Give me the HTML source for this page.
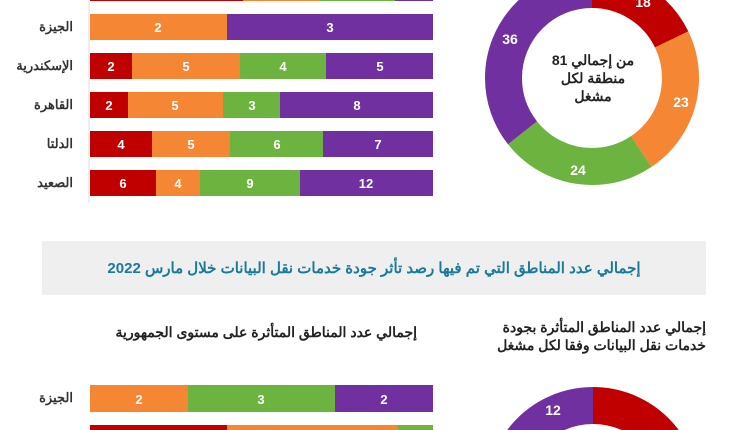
<!DOCTYPE html>
<html><head><meta charset="utf-8"><style>
html,body{margin:0;width:750px;height:430px;overflow:hidden;background:#fff;font-family:"Liberation Sans","Noto Sans CJK SC",sans-serif}
svg{display:block}
</style></head><body>
<svg width="750" height="430" viewBox="0 0 750 430" xmlns="http://www.w3.org/2000/svg" style="font-family:'Liberation Sans','Noto Sans CJK SC',sans-serif">
<g font-weight="bold" font-size="13" fill="#fff" text-anchor="middle">
<rect x="90" y="0" width="153" height="1" fill="#c00000"/><rect x="243" y="0" width="77" height="1" fill="#f58634"/><rect x="320" y="0" width="75" height="1" fill="#6db33f"/><rect x="395" y="0" width="38" height="1" fill="#7030a0"/>
<rect x="90" y="14" width="137" height="26" fill="#f58634"/><rect x="227" y="14" width="206" height="26" fill="#7030a0"/>
<text x="158" y="32">2</text><text x="330" y="32">3</text>
<rect x="90" y="53" width="42" height="26" fill="#c00000"/><rect x="132" y="53" width="108" height="26" fill="#f58634"/><rect x="240" y="53" width="86" height="26" fill="#6db33f"/><rect x="326" y="53" width="107" height="26" fill="#7030a0"/>
<text x="111" y="71">2</text><text x="186" y="71">5</text><text x="283" y="71">4</text><text x="380" y="71">5</text>
<rect x="90" y="92" width="38" height="26" fill="#c00000"/><rect x="128" y="92" width="95" height="26" fill="#f58634"/><rect x="223" y="92" width="57" height="26" fill="#6db33f"/><rect x="280" y="92" width="153" height="26" fill="#7030a0"/>
<text x="109" y="110">2</text><text x="175" y="110">5</text><text x="252" y="110">3</text><text x="357" y="110">8</text>
<rect x="90" y="131" width="62" height="26" fill="#c00000"/><rect x="152" y="131" width="78" height="26" fill="#f58634"/><rect x="230" y="131" width="93" height="26" fill="#6db33f"/><rect x="323" y="131" width="110" height="26" fill="#7030a0"/>
<text x="121" y="149">4</text><text x="191" y="149">5</text><text x="277" y="149">6</text><text x="378" y="149">7</text>
<rect x="90" y="170" width="66" height="26" fill="#c00000"/><rect x="156" y="170" width="44" height="26" fill="#f58634"/><rect x="200" y="170" width="100" height="26" fill="#6db33f"/><rect x="300" y="170" width="133" height="26" fill="#7030a0"/>
<text x="123" y="188">6</text><text x="178" y="188">4</text><text x="250" y="188">9</text><text x="366" y="188">12</text>
<rect x="90" y="385" width="98" height="27" fill="#f58634"/><rect x="188" y="385" width="147" height="27" fill="#6db33f"/><rect x="335" y="385" width="98" height="27" fill="#7030a0"/>
<text x="139" y="404">2</text><text x="261" y="404">3</text><text x="384" y="404">2</text>
<rect x="90" y="425" width="137" height="5" fill="#c00000"/><rect x="227" y="425" width="171" height="5" fill="#f58634"/><rect x="398" y="425" width="35" height="5" fill="#6db33f"/>
</g>
<line x1="89" y1="0" x2="89" y2="203" stroke="#ddd"/>
<g font-weight="bold" font-size="13" fill="#333" text-anchor="end">
<text x="73" y="31">الجيزة</text><text x="73" y="70">الإسكندرية</text><text x="73" y="109">القاهرة</text><text x="73" y="148">الدلتا</text><text x="73" y="187">الصعيد</text><text x="73" y="402">الجيزة</text>
</g>
<g transform="rotate(-90 592 78)" fill="none" stroke-width="37">
<circle cx="592" cy="78" r="88.5" stroke="#c00000" stroke-dasharray="99.1 556.06"/>
<circle cx="592" cy="78" r="88.5" stroke="#f58634" stroke-dasharray="126.6 556.06" stroke-dashoffset="-99.1"/>
<circle cx="592" cy="78" r="88.5" stroke="#6db33f" stroke-dasharray="132.1 556.06" stroke-dashoffset="-225.7"/>
<circle cx="592" cy="78" r="88.5" stroke="#7030a0" stroke-dasharray="198.2 556.06" stroke-dashoffset="-357.8"/>
</g>
<g font-weight="bold" font-size="14" fill="#fff" text-anchor="middle">
<text x="643" y="7">18</text><text x="681" y="107">23</text><text x="578" y="175">24</text><text x="510" y="44">36</text>
</g>
<g font-weight="bold" font-size="14" fill="#222" text-anchor="middle">
<text x="593" y="65">من إجمالي 81</text><text x="593" y="83">منطقة لكل</text><text x="593" y="101">مشغل</text>
</g>
<rect x="42" y="241" width="664" height="54" fill="#efefef"/>
<text x="374" y="273" text-anchor="middle" font-weight="bold" font-size="15" fill="#1a7a9a">إجمالي عدد المناطق التي تم فيها رصد تأثر جودة خدمات نقل البيانات خلال مارس 2022</text>
<g font-weight="bold" font-size="14" fill="#222" text-anchor="end">
<text x="706" y="332">إجمالي عدد المناطق المتأثرة بجودة</text><text x="706" y="350">خدمات نقل البيانات وفقا لكل مشغل</text>
<text x="417" y="337">إجمالي عدد المناطق المتأثرة على مستوى الجمهورية</text>
</g>
<g transform="rotate(-90 593 494)" fill="none" stroke-width="37">
<circle cx="593" cy="494" r="88.5" stroke="#c00000" stroke-dasharray="308.9 556.06"/>
<circle cx="593" cy="494" r="88.5" stroke="#f58634" stroke-dasharray="146.7 556.06" stroke-dashoffset="-308.9"/>
<circle cx="593" cy="494" r="88.5" stroke="#6db33f" stroke-dasharray="15.5 556.06" stroke-dashoffset="-455.6"/>
<circle cx="593" cy="494" r="88.5" stroke="#7030a0" stroke-dasharray="85 556.06" stroke-dashoffset="-471.1"/>
</g>
<text x="553" y="415" text-anchor="middle" font-weight="bold" font-size="14" fill="#fff">12</text>
</svg>
</body></html>
